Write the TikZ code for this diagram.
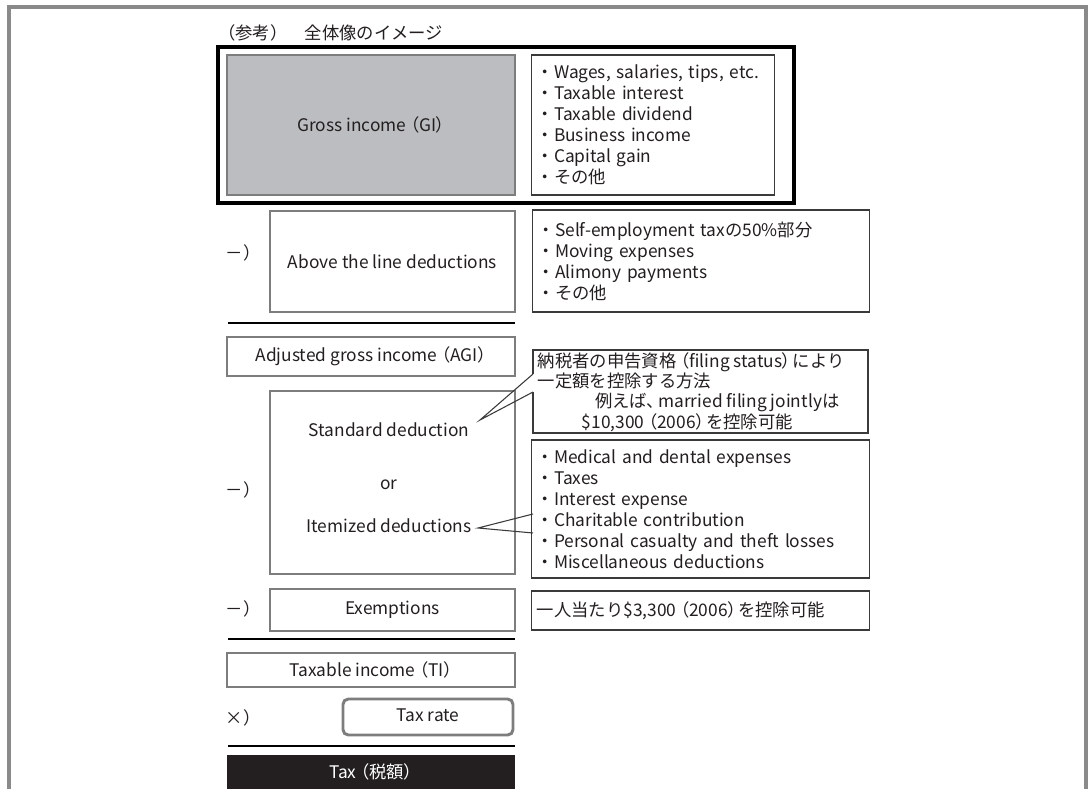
\documentclass[tikz,border=0pt]{standalone}
\usepackage{fontspec}
\setmainfont{Noto Sans CJK JP}
\newfontfamily\pal[RawFeature=+palt]{Noto Sans CJK JP}
\newcommand\lpar{\hspace{0.25em}{\pal（}}
\newcommand\rpar{{\pal ）}\hspace{0.1em}}
\usetikzlibrary{calc}
\definecolor{txt}{RGB}{35,31,32}
\definecolor{gborder}{RGB}{125,125,125}
\definecolor{gifill}{RGB}{188,189,192}
\definecolor{dborder}{RGB}{58,58,58}
\definecolor{oframe}{RGB}{138,138,138}
\definecolor{taxfill}{RGB}{35,31,32}
\tikzset{
  every node/.style={font=\fontsize{13}{15.75}\selectfont, text=txt},
  lbox/.style={draw=gborder, line width=2.2pt, inner sep=0pt},
  rbox/.style={draw=dborder, line width=1pt, inner xsep=3.75pt, inner ysep=0pt, align=left, fill=white},
  sepline/.style={draw=black, line width=1.8pt},
  callline/.style={draw=dborder, line width=0.8pt},
  lbl/.style={inner sep=0pt},
}
\begin{document}
\begin{tikzpicture}[x=0.75pt, y=-0.75pt]
\useasboundingbox (0,0) rectangle (1090,789);
% outer frame
\coordinate (of1) at (9,792);
\coordinate (of2) at (9,7);
\coordinate (of3) at (1086,7);
\coordinate (of4) at (1086,792);
\draw[oframe, line width=2.3pt] (of1) -- (of2) -- (of3) -- (of4);
% title
\node[lbl, anchor=west] (title) at (218,33) {（参考）　全体像のイメージ};
% frame around GI
\node[draw=black, line width=2.6pt, inner sep=0pt, minimum width=576*0.75pt, minimum height=156*0.75pt] (giframe) at (506,125) {};
% GI
\node[lbox, fill=gifill, minimum width=288*0.75pt, minimum height=140*0.75pt] (gi) at (371,125) {Gross income\lpar GI\rpar};
\node[rbox, minimum width=240*0.75pt, minimum height=140*0.75pt, text width=232.5*0.75pt] (gilist) at (653,125) {・Wages, salaries, tips, etc.\\・Taxable interest\\・Taxable dividend\\・Business income\\・Capital gain\\・その他};
% above the line
\node[lbl] (m1) at (243,253) {－）};
\node[lbox, minimum width=245*0.75pt, minimum height=101*0.75pt] (atl) at (392.5,261.5) {Above the line deductions};
\node[rbox, minimum width=334*0.75pt, minimum height=102*0.75pt, text width=326.5*0.75pt] (atllist) at (701,261) {・Self-employment taxの50\%部分\\・Moving expenses\\・Alimony payments\\・その他};
\coordinate (l1a) at (228,323);
\coordinate (l1b) at (515,323);
\draw[sepline] (l1a) -- (l1b);
% AGI
\node[lbox, minimum width=288*0.75pt, minimum height=39*0.75pt] (agi) at (371,356.5) {Adjusted gross income\lpar AGI\rpar};
% standard / itemized
\node[lbl] (m2) at (243,490) {－）};
\node[lbox, minimum width=245*0.75pt, minimum height=183*0.75pt] (sdbox) at (392.5,482.5) {};
\node[lbl] (sd) at (389,430) {Standard deduction};
\node[lbl] (or) at (389,485) {or};
\node[lbl] (itd) at (389,526) {Itemized deductions};
\node[rbox, minimum width=335*0.75pt, minimum height=83*0.75pt] (sdnote) at (700.5,391.5) {};
\node[lbl, anchor=west, align=left, font=\fontsize{13}{15.2}\selectfont] (sdtext) at (537.5,392) {納税者の申告資格\lpar filing status\rpar により\\一定額を控除する方法\\\hspace*{43pt}例えば{\pal 、}\hspace{0.15em}married filing jointlyは\\\hspace*{33pt}\$10,300\lpar 2006\rpar を控除可能};
\node[rbox, minimum width=335*0.75pt, minimum height=138*0.75pt, text width=327.5*0.75pt] (itlist) at (700.5,509) {・Medical and dental expenses\\・Taxes\\・Interest expense\\・Charitable contribution\\・Personal casualty and theft losses\\・Miscellaneous deductions};
% callout pointers
\coordinate (sdtip) at (480,420);
\coordinate (sb1) at (533,374);
\coordinate (sb2) at (533,392);
\fill[white] ([xshift=-1pt]sb1) rectangle ([xshift=1pt]sb2);
\draw[callline] (sb1) -- (sdtip) -- (sb2);
\coordinate (ittip) at (478,528);
\coordinate (ib1) at (533,514);
\coordinate (ib2) at (533,533);
\fill[white] ([xshift=-1pt]ib1) rectangle ([xshift=1pt]ib2);
\draw[callline] (ib1) -- (ittip) -- (ib2);
% exemptions
\node[lbl] (m3) at (243,609) {－）};
\node[lbox, minimum width=245*0.75pt, minimum height=42*0.75pt] (ex) at (392.5,610) {Exemptions};
\node[rbox, minimum width=335*0.75pt, minimum height=39*0.75pt, text width=327.5*0.75pt] (exnote) at (700.5,610.5) {一人当たり\$3,300\lpar 2006\rpar を控除可能};
\coordinate (l2a) at (228,639);
\coordinate (l2b) at (515,639);
\draw[sepline] (l2a) -- (l2b);
% taxable income
\node[lbox, minimum width=288*0.75pt, minimum height=34*0.75pt] (ti) at (371,670) {Taxable income\lpar TI\rpar};
% tax rate
\node[lbl] (m4) at (243,718) {×）};
\node[lbox, rounded corners=4pt, minimum width=170*0.75pt, minimum height=36*0.75pt] (tr) at (428,717) {};
\node[lbl] (trt) at (428,715) {Tax rate};
\coordinate (l3a) at (228,746);
\coordinate (l3b) at (515,746);
\draw[sepline] (l3a) -- (l3b);
% tax
\node[fill=taxfill, inner sep=0pt, minimum width=288*0.75pt, minimum height=38*0.75pt] (tax) at (371,774) {};
\node[lbl, text=white] (taxt) at (371,772) {Tax\lpar 税額\rpar};
\end{tikzpicture}
\end{document}
